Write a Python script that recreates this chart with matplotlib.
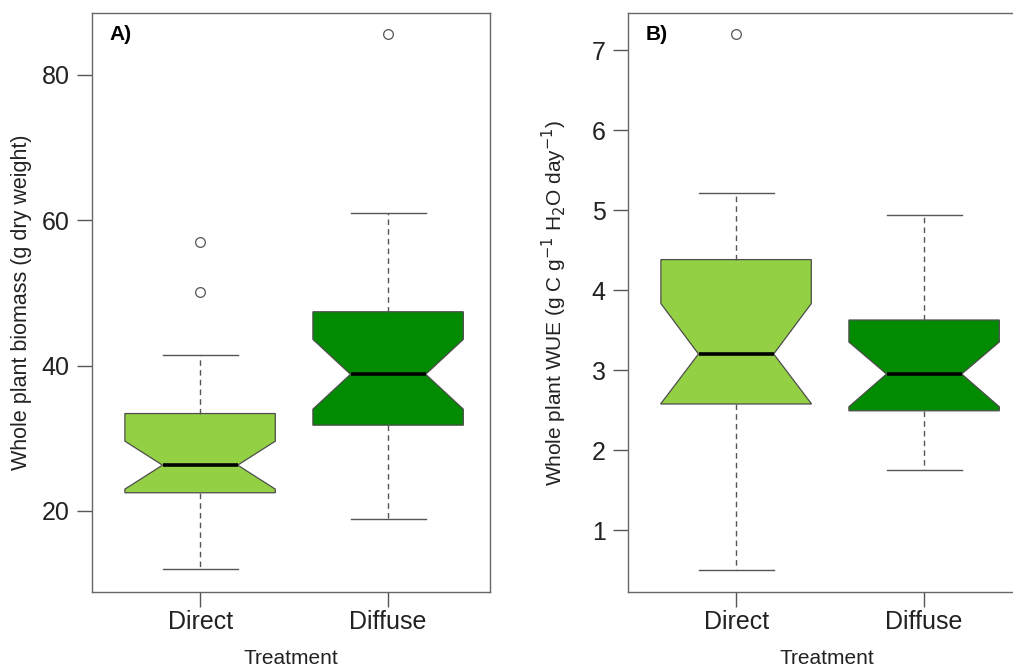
import matplotlib
matplotlib.use("Agg")
import matplotlib.pyplot as plt

plt.rcParams['font.family'] = ['Liberation Sans', 'DejaVu Sans']

treatments = ['Direct', 'Diffuse']
box_colors = ['#94d044', '#008b00']

# Panel A: whole plant biomass (g dry weight)
bio_whislo = [12.0, 18.9]
bio_q1 = [22.5, 31.8]
bio_med = [26.3, 38.8]
bio_q3 = [33.4, 47.4]
bio_whishi = [41.5, 61.0]
bio_cilo = [23.0, 34.0]
bio_cihi = [29.6, 43.6]
bio_fliers = [[50.1, 57.0], [85.6]]

# Panel B: whole plant WUE
wue_whislo = [0.5, 1.75]
wue_q1 = [2.575, 2.49]
wue_med = [3.2, 2.95]
wue_q3 = [4.38, 3.625]
wue_whishi = [5.21, 4.94]
wue_cilo = [2.58, 2.54]
wue_cihi = [3.83, 3.35]
wue_fliers = [[7.2], []]


def make_stats(whislo, q1, med, q3, whishi, cilo, cihi, fliers):
    out = []
    for i in range(len(treatments)):
        out.append(dict(label=treatments[i], whislo=whislo[i], q1=q1[i], med=med[i],
                        q3=q3[i], whishi=whishi[i], cilo=cilo[i], cihi=cihi[i],
                        fliers=fliers[i]))
    return out


def draw(ax, stats):
    parts = ax.bxp(stats, positions=[1, 2], widths=0.8, shownotches=True,
                   patch_artist=True,
                   boxprops=dict(edgecolor='#4d4d4d', linewidth=0.9),
                   medianprops=dict(color='black', linewidth=2.6),
                   whiskerprops=dict(color='#555555', linewidth=1.0, linestyle=(0, (4, 3))),
                   capprops=dict(color='#555555', linewidth=1.0),
                   flierprops=dict(marker='o', markerfacecolor='none',
                                   markeredgecolor='#555555', markersize=7,
                                   markeredgewidth=0.9))
    for patch, c in zip(parts['boxes'], box_colors):
        patch.set_facecolor(c)
    # R-style staples: half the box width
    for cap in parts['caps']:
        x = cap.get_xdata()
        mid = (x[0] + x[1]) / 2
        cap.set_xdata([mid - 0.2, mid + 0.2])
    ax.set_xlim(0.425, 2.542)
    for s in ax.spines.values():
        s.set_color('#666666')
        s.set_linewidth(1.0)
    ax.tick_params(axis='both', colors='#555555', labelcolor='#222222',
                   labelsize=18, length=11, width=1.0, pad=5)
    ax.tick_params(axis='x', pad=2)
    ax.set_xlabel('Treatment', fontsize=15, color='#222222')
    ax.xaxis.set_label_coords(0.5, -0.099, transform=ax.transAxes)


fig = plt.figure(figsize=(10.13, 6.68), dpi=100)
ax1 = fig.add_axes([92 / 1013, 1 - 592 / 668, 398 / 1013, 579 / 668])
ax2 = fig.add_axes([628 / 1013, 1 - 592 / 668, 398 / 1013, 579 / 668])

draw(ax1, make_stats(bio_whislo, bio_q1, bio_med, bio_q3, bio_whishi, bio_cilo, bio_cihi, bio_fliers))
ax1.set_ylim(8.85, 88.5)
ax1.set_yticks([20, 40, 60, 80])
ax1.set_ylabel('Whole plant biomass (g dry weight)', fontsize=15.5, color='#222222')
ax1.yaxis.set_label_coords(-0.15, 0.5, transform=ax1.transAxes)
ax1.text(0.045, 0.963, 'A)', transform=ax1.transAxes, fontsize=15, fontweight='bold',
         va='center', ha='left')

draw(ax2, make_stats(wue_whislo, wue_q1, wue_med, wue_q3, wue_whishi, wue_cilo, wue_cihi, wue_fliers))
ax2.set_ylim(0.225, 7.4625)
ax2.set_yticks([1, 2, 3, 4, 5, 6, 7])
ax2.set_ylabel('Whole plant WUE (g C g$^{-1}$ H$_2$O day$^{-1}$)', fontsize=15,
               color='#222222')
ax2.yaxis.set_label_coords(-0.147, 0.5, transform=ax2.transAxes)
ax2.text(0.045, 0.963, 'B)', transform=ax2.transAxes, fontsize=15, fontweight='bold',
         va='center', ha='left')

fig.savefig('out.png', dpi=100)
